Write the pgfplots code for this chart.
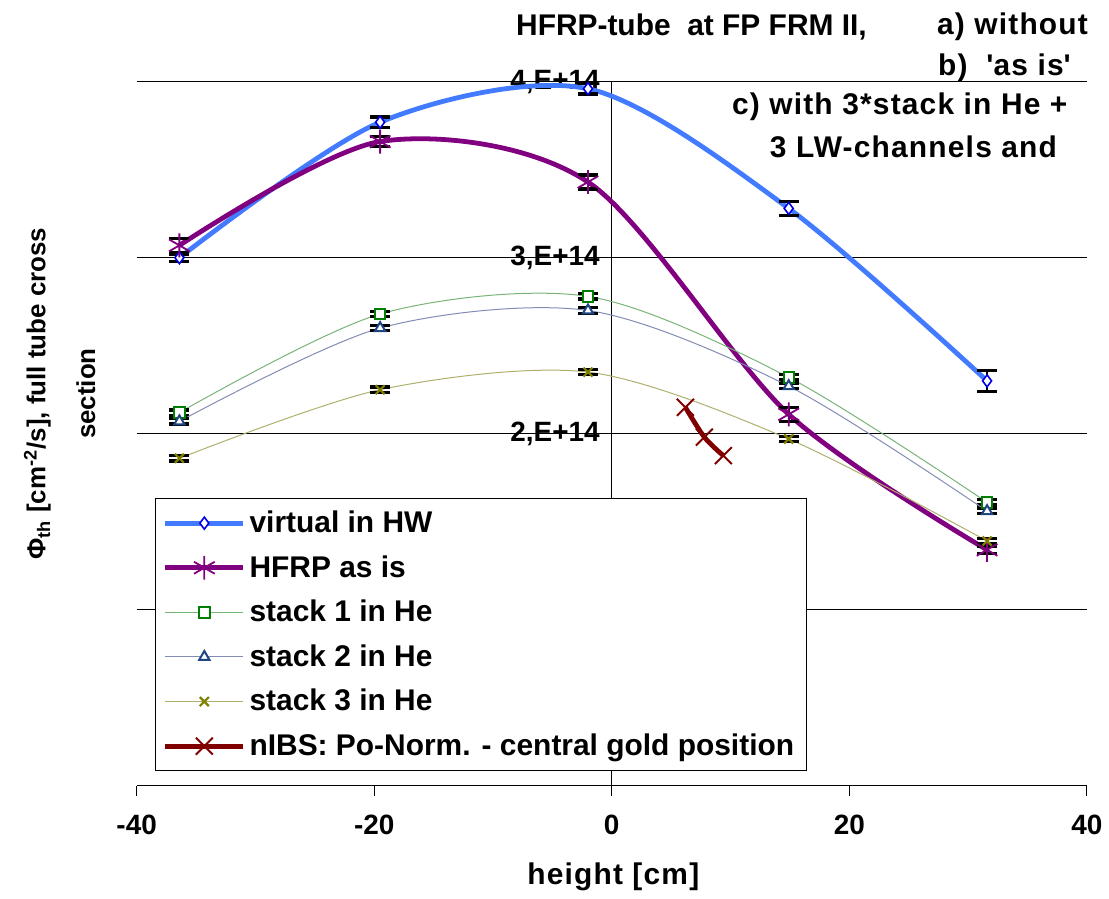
\documentclass[border=0pt]{standalone}
\usepackage{pgfplots}
\pgfplotsset{compat=1.18}
\usepackage{pgfplotstable}
\usepackage{fontspec}
\setmainfont{Liberation Sans}

\definecolor{hwline}{RGB}{66,123,255}
\definecolor{hwmark}{RGB}{0,0,230}
\definecolor{hfrp}{RGB}{128,0,128}
\definecolor{stamark}{RGB}{0,128,0}
\definecolor{staline}{RGB}{120,180,120}
\definecolor{stbmark}{RGB}{30,70,130}
\definecolor{stbline}{RGB}{130,140,180}
\definecolor{stcmark}{RGB}{128,128,0}
\definecolor{stcline}{RGB}{175,175,110}
\definecolor{nibs}{RGB}{128,0,0}

\newcommand{\fs}{\bfseries\fontsize{14}{17}\selectfont}
\newcommand{\fl}{\bfseries\fontsize{15}{18}\selectfont}
\newcommand{\ft}{\bfseries\fontsize{15}{18}\selectfont\addfontfeature{LetterSpace=4}}

% height [cm], flux [1E14 /cm^2/s], error
\pgfplotstableread{
x y e
-36.4 3.00 0.02
-19.5 3.77 0.03
-2.0 3.96 0.03
14.9 3.28 0.04
31.6 2.30 0.06
}\virtual
\pgfplotstableread{
x y e
-36.4 3.07 0.04
-19.5 3.66 0.03
-2.0 3.43 0.04
14.9 2.11 0.04
31.6 1.34 0.02
}\hfrp
\pgfplotstableread{
x y e
-36.4 2.12 0.015
-19.5 2.68 0.015
-2.0 2.78 0.015
14.9 2.32 0.015
31.6 1.61 0.015
}\stackone
\pgfplotstableread{
x y e
-36.4 2.07 0.015
-19.5 2.60 0.015
-2.0 2.70 0.015
14.9 2.27 0.015
31.6 1.56 0.015
}\stacktwo
\pgfplotstableread{
x y e
-36.4 1.86 0.015
-19.5 2.25 0.015
-2.0 2.35 0.015
14.9 1.97 0.015
31.6 1.39 0.015
}\stackthree
\pgfplotstableread{
x y
6.2 2.15
7.8 1.98
9.4 1.875
}\nibs

\begin{document}
\begin{tikzpicture}
\begin{axis}[
    scale only axis,
    width=476.5pt, height=353pt,
    xmin=-40, xmax=40, ymin=0, ymax=4,
    clip=false,
    axis x line=bottom, axis y line=center,
    axis line style={-, black, line width=0.6pt},
    xtick={-40,-20,0,20,40},
    xticklabels={-40,-20,0,20,40},
    xtick align=outside,
    x tick style={black, line width=0.6pt},
    major tick length=5pt,
    ytick={0,1,2,3,4},
    yticklabels={{0,E+00},{1,E+14},{2,E+14},{3,E+14},{4,E+14}},
    y tick style={draw=none},
    ymajorgrids,
    grid style={black, line width=0.6pt},
    tick label style={font=\fs},
    xticklabel style={yshift=-6pt},
    legend style={at={(axis description cs:0.019,0.408)}, anchor=north west,
        draw=black, fill=white, font=\fl, cells={anchor=west},
        inner xsep=4pt, inner ysep=4pt, row sep=6pt},
    legend image code/.code={
        \draw[mark repeat=2, mark phase=2] plot coordinates {(8pt,0pt)(27.5pt,0pt)(47pt,0pt)};},
    error bars/y dir=both, error bars/y explicit,
    error bars/error bar style={black, line width=0.8pt},
    error bars/error mark options={black, line width=1.6pt, mark size=5pt, rotate=90},
]
\addplot[hwline, line width=2.4pt, smooth, mark=diamond*,
    mark options={draw=hwmark, fill=white, line width=0.8pt, mark size=3pt}]
    table[x=x, y=y, y error=e] {\virtual};
\addlegendentry{virtual in HW}
\addplot[hfrp, line width=2.4pt, smooth, mark=asterisk,
    mark options={line width=0.9pt, mark size=6pt}]
    table[x=x, y=y, y error=e] {\hfrp};
\addlegendentry{HFRP as is}
\addplot[staline, line width=0.5pt, smooth, mark=square*,
    mark options={draw=stamark, fill=white, line width=1pt, mark size=2.6pt}]
    table[x=x, y=y, y error=e] {\stackone};
\addlegendentry{stack 1 in He}
\addplot[stbline, line width=0.5pt, smooth, mark=triangle*,
    mark options={draw=stbmark, fill=white, line width=1pt, mark size=3pt}]
    table[x=x, y=y, y error=e] {\stacktwo};
\addlegendentry{stack 2 in He}
\addplot[stcline, line width=0.5pt, smooth, mark=x,
    mark options={draw=stcmark, line width=1.1pt, mark size=3.2pt}]
    table[x=x, y=y, y error=e] {\stackthree};
\addlegendentry{stack 3 in He}
\addplot[nibs, line width=2.4pt, smooth, mark=x,
    mark options={line width=1pt, mark size=6pt}, error bars/y dir=none]
    table[x=x, y=y] {\nibs};
\addlegendentry{nIBS: Po-Norm. - central gold position}

\node[anchor=west, font=\fl] at (axis description cs:0.392,1.078) {HFRP-tube\ \ at FP FRM II,};
\node[anchor=west, font=\ft] at (axis description cs:0.835,1.078) {a) without};
\node[anchor=west, font=\ft] at (axis description cs:0.836,1.020) {b)\ \ \textquotesingle as is\textquotesingle};
\node[anchor=east, font=\ft] at (axis description cs:0.987,0.965) {c) with 3*stack in He +};
\node[anchor=east, font=\ft] at (axis description cs:0.976,0.908) {3 LW-channels and};
\node[rotate=90, align=center, font=\bfseries\fontsize{13}{16}\selectfont] at (axis description cs:-0.081,0.557)
    {Φ\textsubscript{th} [cm\textsuperscript{-2}/s], full tube cross\\[9pt]section};
\node[font=\ft] at (axis description cs:0.5016,-0.130) {height [cm]};
\path (axis description cs:-0.1438,-0.1601) rectangle (axis description cs:1.0199,1.1161);
\end{axis}
\end{tikzpicture}
\end{document}
